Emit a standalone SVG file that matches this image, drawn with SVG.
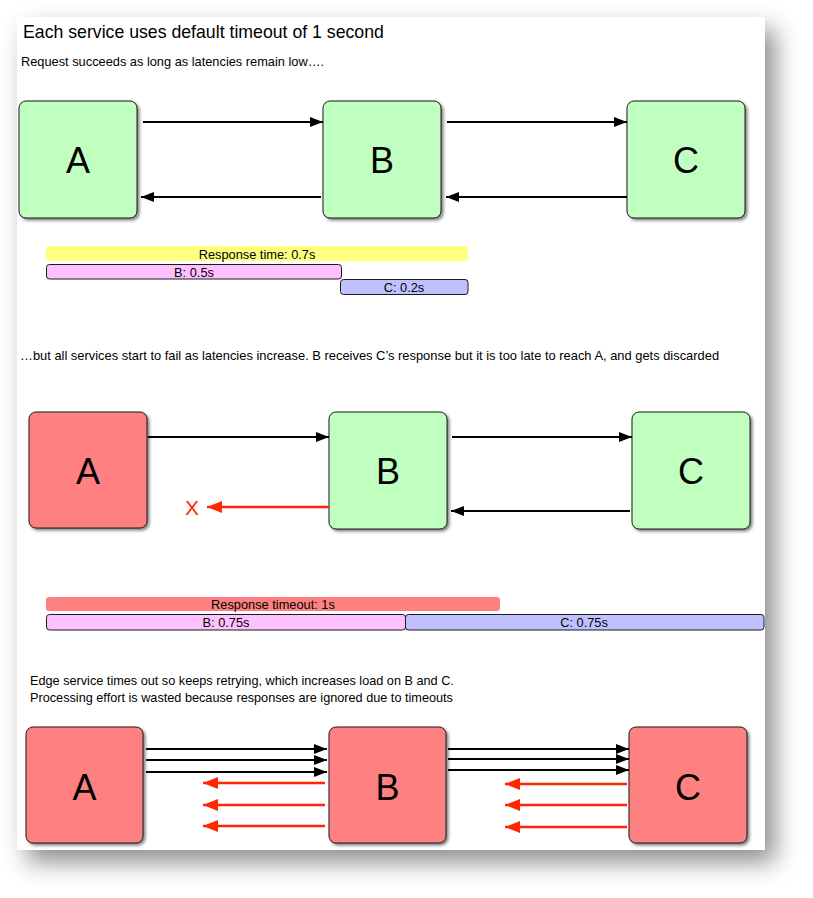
<svg xmlns="http://www.w3.org/2000/svg" width="813" height="898" viewBox="0 0 813 898">
<defs>
<filter id="pageShadow" x="-10%" y="-10%" width="130%" height="130%">
<feDropShadow dx="10" dy="12" stdDeviation="12" flood-color="#000" flood-opacity="0.45"/>
</filter>
<filter id="boxShadow" x="-10%" y="-10%" width="130%" height="130%">
<feDropShadow dx="2" dy="2" stdDeviation="1.5" flood-color="#000" flood-opacity="0.5"/>
</filter>
<marker id="ah" markerUnits="userSpaceOnUse" markerWidth="14" markerHeight="10" refX="13" refY="5" orient="auto">
<path d="M0,0 L13,5 L0,10 z" fill="#000"/>
</marker>
<marker id="ahr" markerUnits="userSpaceOnUse" markerWidth="16" markerHeight="12" refX="15" refY="6" orient="auto">
<path d="M0,0 L15,6 L0,12 z" fill="#ff2600"/>
</marker>
</defs>
<style>
.box{stroke:#1a1a1a;stroke-width:1;filter:url(#boxShadow)}
.green{fill:#c0ffc0}
.red{fill:#ff8080}
.lbl{font-family:"Liberation Sans",Arial,sans-serif;font-size:36px;text-anchor:middle;fill:#000}
.t{font-family:"Liberation Sans",Arial,sans-serif;fill:#000}
.bar{font-family:"Liberation Sans",Arial,sans-serif;font-size:12.8px;text-anchor:middle;fill:#000}
.blk{stroke:#000;stroke-width:2;fill:none;marker-end:url(#ah)}
.rd{stroke:#ff2600;stroke-width:2.5;fill:none;marker-end:url(#ahr)}
.bs{stroke:#1a1a1a;stroke-width:1}
</style>
<rect x="0" y="0" width="813" height="898" fill="#fff"/>
<rect x="17" y="17" width="748" height="833" fill="#fff" filter="url(#pageShadow)"/>

<text class="t" x="23" y="38" font-size="17.7">Each service uses default timeout of 1 second</text>
<text class="t" x="21" y="66" font-size="12.8">Request succeeds as long as latencies remain low….</text>

<g id="A1"><rect class="box green" x="19" y="101" width="118" height="117" rx="7"/><text class="lbl" x="78" y="173">A</text></g>
<g id="B1"><rect class="box green" x="323" y="101" width="118" height="117" rx="7"/><text class="lbl" x="382" y="173">B</text></g>
<g id="C1"><rect class="box green" x="627" y="101" width="118" height="117" rx="7"/><text class="lbl" x="686" y="173">C</text></g>

<g id="bars1">
<rect x="46" y="246" width="422" height="15" rx="3" fill="#ffff80"/>
<text class="bar" x="257" y="258.5">Response time: 0.7s</text>
<rect class="bs" x="46.5" y="264.5" width="295" height="14.5" rx="3" fill="#ffc0ff"/>
<text class="bar" x="194" y="276.5">B: 0.5s</text>
<rect class="bs" x="340.5" y="279.5" width="127.5" height="15" rx="3" fill="#c0c0ff"/>
<text class="bar" x="404" y="292">C: 0.2s</text>
</g>

<text class="t" x="20" y="360" font-size="12.9">…but all services start to fail as latencies increase. B receives C’s response but it is too late to reach A, and gets discarded</text>

<g id="A2"><rect class="box red" x="29" y="412" width="118" height="116" rx="7"/><text class="lbl" x="88" y="484">A</text></g>
<g id="B2"><rect class="box green" x="329" y="412" width="118" height="117" rx="7"/><text class="lbl" x="388" y="484">B</text></g>
<g id="C2"><rect class="box green" x="632" y="412" width="118" height="117" rx="7"/><text class="lbl" x="691" y="484">C</text></g>
<text class="t" x="192" y="515" font-size="21" text-anchor="middle" style="fill:#ff2600">X</text>

<g id="bars2">
<rect x="46" y="597" width="454" height="14" rx="3" fill="#ff8080"/>
<text class="bar" x="273" y="608.5">Response timeout: 1s</text>
<rect class="bs" x="46.5" y="614.5" width="359" height="15.5" rx="3" fill="#ffc0ff"/>
<text class="bar" x="226" y="627">B: 0.75s</text>
<rect class="bs" x="405.5" y="614.5" width="358.5" height="15.5" rx="3" fill="#c0c0ff"/>
<text class="bar" x="584" y="627">C: 0.75s</text>
</g>

<text class="t" x="30" y="685" font-size="12.7">Edge service times out so keeps retrying, which increases load on B and C.</text>
<text class="t" x="30" y="702" font-size="12.7">Processing effort is wasted because responses are ignored due to timeouts</text>

<g id="A3"><rect class="box red" x="26" y="727" width="117" height="116" rx="7"/><text class="lbl" x="84.5" y="800">A</text></g>
<g id="B3"><rect class="box red" x="329" y="727" width="117" height="116" rx="7"/><text class="lbl" x="387.5" y="800">B</text></g>
<g id="C3"><rect class="box red" x="629" y="727" width="118" height="116" rx="7"/><text class="lbl" x="688" y="800">C</text></g>

<g id="connectors">
<line class="blk" x1="143" y1="122" x2="323" y2="122"/>
<line class="blk" x1="321" y1="197" x2="141" y2="197"/>
<line class="blk" x1="447" y1="122" x2="627" y2="122"/>
<line class="blk" x1="627" y1="197" x2="446" y2="197"/>

<line class="blk" x1="148" y1="437" x2="329" y2="437"/>
<line class="rd" x1="329" y1="507" x2="207" y2="507"/>
<line class="blk" x1="452" y1="437" x2="632" y2="437"/>
<line class="blk" x1="630" y1="511" x2="451" y2="511"/>

<line class="blk" x1="146" y1="749" x2="327" y2="749"/>
<line class="blk" x1="146" y1="760" x2="327" y2="760"/>
<line class="blk" x1="146" y1="772" x2="327" y2="772"/>
<line class="rd" x1="325" y1="783" x2="203" y2="783"/>
<line class="rd" x1="325" y1="805" x2="203" y2="805"/>
<line class="rd" x1="325" y1="826" x2="203" y2="826"/>

<line class="blk" x1="448" y1="749" x2="629" y2="749"/>
<line class="blk" x1="448" y1="759" x2="629" y2="759"/>
<line class="blk" x1="448" y1="770" x2="629" y2="770"/>
<line class="rd" x1="627" y1="784" x2="505" y2="784"/>
<line class="rd" x1="627" y1="805" x2="505" y2="805"/>
<line class="rd" x1="627" y1="827" x2="505" y2="827"/>
</g>
</svg>
